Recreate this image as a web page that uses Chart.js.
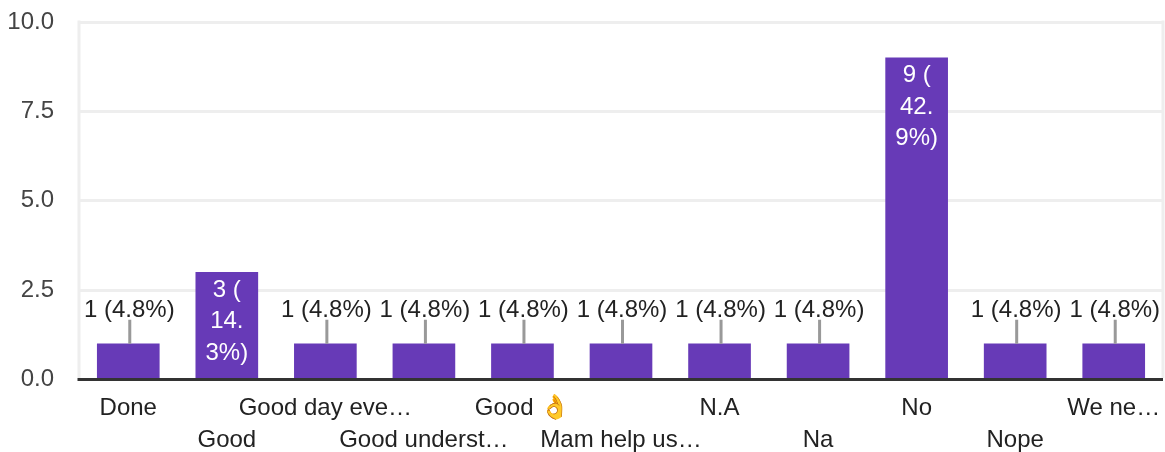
<!DOCTYPE html>
<html>
<head>
<meta charset="utf-8">
<style>
    html, body { margin: 0; padding: 0; background: #ffffff; }
    canvas { display: block; }
</style>
<script src="https://cdn.jsdelivr.net/npm/chart.js@4"></script>
</head>
<body>
<canvas id="answersChart" width="1165" height="452"></canvas>
<script>
const categories = ['Done', 'Good', 'Good day eve…', 'Good underst…', 'Good 👌', 'Mam help us…', 'N.A', 'Na', 'No', 'Nope', 'We ne…'];
const counts = [1, 3, 1, 1, 1, 1, 1, 1, 9, 1, 1];
const percents = ['4.8', '14.3', '4.8', '4.8', '4.8', '4.8', '4.8', '4.8', '42.9', '4.8', '4.8'];
const yTicks = [0, 2.5, 5, 7.5, 10];

const fontFamily = '"Liberation Sans", Arial, sans-serif';
const labelFont = '24px ' + fontFamily;

// Value labels, axis line and plot edges
const barLabels = {
    id: 'barLabels',
    afterDatasetsDraw(chart) {
        const { ctx, chartArea, scales } = chart;
        const bars = chart.getDatasetMeta(0).data;

        ctx.save();
        ctx.fillStyle = '#eeeeee';
        ctx.fillRect(chartArea.left - 1.5, chartArea.top - 1.5, 3, chartArea.bottom - chartArea.top);
        ctx.fillRect(chartArea.right - 1.5, chartArea.top - 1.5, 3, chartArea.bottom - chartArea.top);

        ctx.fillStyle = '#333333';
        ctx.fillRect(chartArea.left - 1.5, scales.y.getPixelForValue(0) - 1.5, chartArea.right - chartArea.left + 1.5, 3);

        ctx.font = labelFont;
        ctx.textAlign = 'center';
        ctx.textBaseline = 'middle';
        bars.forEach((bar, i) => {
            const text = `${counts[i]} (${percents[i]}%)`;
            if (counts[i] > 1) {
                // narrow space inside the bar, so it wraps on three lines
                const lines = [`${counts[i]} (`, percents[i].slice(0, 3), percents[i].slice(3) + '%)'];
                ctx.fillStyle = '#ffffff';
                lines.forEach((line, n) => ctx.fillText(line, bar.x, bar.y + 18 + n * 31.5));
            } else {
                ctx.fillStyle = '#999999';
                ctx.fillRect(bar.x, bar.y - 24, 3, 24);
                ctx.fillStyle = '#222222';
                ctx.fillText(text, bar.x + 1, bar.y - 33);
            }
        });
        ctx.restore();
    }
};

new Chart(document.getElementById('answersChart'), {
    type: 'bar',
    data: {
        labels: categories,
        datasets: [{
            data: counts,
            backgroundColor: '#673ab7',
            barThickness: 62
        }]
    },
    plugins: [barLabels],
    options: {
        responsive: false,
        animation: false,
        layout: { padding: { top: 22, right: 2, left: 0, bottom: 0 } },
        plugins: {
            legend: { display: false },
            tooltip: { enabled: false }
        },
        scales: {
            x: {
                grid: { display: false },
                border: { display: false },
                afterFit(axis) {
                    axis.height = 72.5;
                    axis.paddingLeft = 0;
                    axis.paddingRight = 0;
                },
                ticks: {
                    autoSkip: false,
                    maxRotation: 0,
                    minRotation: 0,
                    padding: 5,
                    color: '#222222',
                    font: { family: fontFamily, size: 24, lineHeight: 32 / 24 },
                    // labels alternate between two rows
                    callback(value, index) {
                        const label = this.getLabelForValue(value);
                        return index % 2 === 0 ? [label, ''] : ['', label];
                    }
                }
            },
            y: {
                min: 0,
                max: 10,
                afterFit(axis) {
                    axis.width = 79;
                    axis.paddingTop = 0;
                    axis.paddingBottom = 0;
                },
                afterBuildTicks(axis) { axis.ticks = yTicks.map(value => ({ value })); },
                border: { display: false },
                grid: { color: '#eeeeee', lineWidth: 3, drawTicks: false },
                ticks: {
                    padding: 25,
                    color: '#444444',
                    font: { family: fontFamily, size: 24 },
                    callback: value => value.toFixed(1)
                }
            }
        }
    }
});
</script>
</body>
</html>
